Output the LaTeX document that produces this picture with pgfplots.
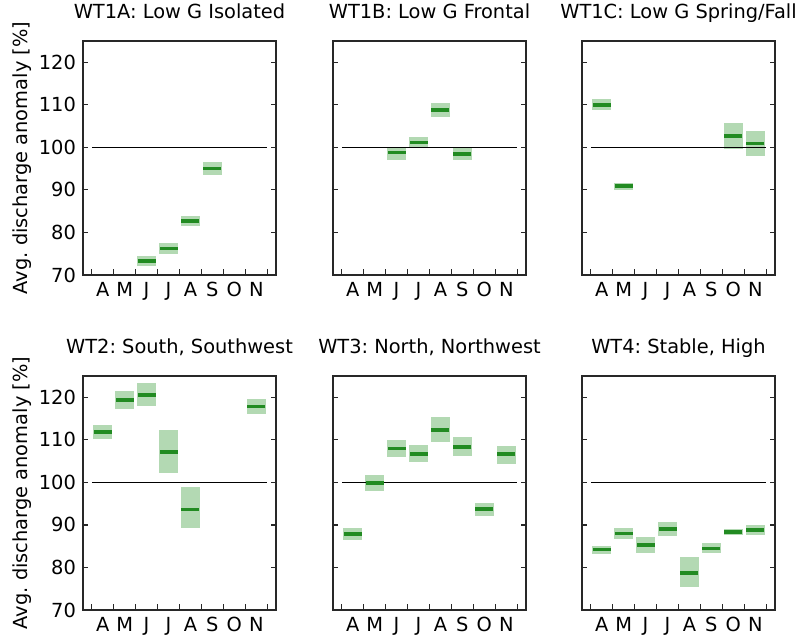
\documentclass[border=0pt]{standalone}
\usepackage{fontspec}
\setmainfont{DejaVu Sans}
\usepackage{pgfplots}
\usepackage{pgfplotstable}
\pgfplotsset{compat=1.18}
\frenchspacing
\definecolor{boxgreen}{RGB}{179,217,179}
\definecolor{medgreen}{RGB}{34,139,34}
\definecolor{axgray}{RGB}{40,40,40}

% columns: x (0=A ... 7=N), lo, med, hi
\pgfplotstableread{
x lo med hi
2 72.0 73.3 74.5
3 74.9 76.25 77.6
4 81.6 82.7 83.8
5 93.4 95.0 96.6
}\tabA
\pgfplotstableread{
x lo med hi
2 97.0 98.75 100.1
3 100.1 101.1 102.4
4 107.1 108.8 110.5
5 97.0 98.5 100.1
}\tabB
\pgfplotstableread{
x lo med hi
0 108.7 110.0 111.3
1 89.9 90.9 91.6
6 99.5 102.7 105.7
7 98.0 100.9 103.75
}\tabC
\pgfplotstableread{
x lo med hi
0 110.1 111.9 113.55
1 117.3 119.3 121.5
2 118.0 120.55 123.3
3 102.1 107.2 112.2
4 89.3 93.6 98.85
7 116.1 117.8 119.5
}\tabD
\pgfplotstableread{
x lo med hi
0 86.5 87.9 89.3
1 97.9 99.9 101.8
2 105.9 108.0 109.9
3 104.9 106.7 108.7
4 109.5 112.3 115.3
5 106.2 108.3 110.7
6 92.2 93.7 95.2
7 104.4 106.6 108.5
}\tabE
\pgfplotstableread{
x lo med hi
0 83.2 84.2 85.1
1 86.7 88.0 89.3
2 83.5 85.25 87.1
3 87.3 89.0 90.6
4 75.3 78.65 82.5
5 83.4 84.5 85.7
6 87.6 88.3 89.0
7 87.7 88.8 89.9
}\tabF

\pgfplotsset{
  panel/.style={
    scale only axis, width=96.5pt, height=117pt,
    xmin=-0.9, xmax=7.9, ymin=70, ymax=125,
    font=\fontsize{9.7}{11.6}\selectfont,
    /pgf/number format/assume math mode=true,
    axis line style={axgray, line width=0.6pt},
    tick style={axgray, line width=0.6pt},
    tick align=inside,
    xtick={0,...,7}, xticklabels={A,M,J,J,A,S,O,N},
    minor xtick={-0.5,0.5,...,7.5},
    major x tick style={draw=none},
    minor tick length=3pt, major tick length=2.6pt,
    ytick={70,80,...,120},
    xtick pos=left, ytick pos=both,
    xticklabel style={anchor=base, yshift=-11pt},
    title style={at={(0.5,1)}, anchor=base, yshift=5.2pt},
    every axis y label/.style={at={(axis description cs:-0.316,0.5)}, rotate=90, anchor=center},
    clip=false,
  },
  noylab/.style={yticklabels={}},
}
\newcommand{\panelplots}[1]{%
  \addplot[draw=none, mark=none, forget plot,
    error bars/.cd, y dir=both, y explicit, error mark=none,
    error bar style={draw=boxgreen, line width=9.5pt}]
    table[x=x, y=med, y error plus expr=\thisrow{hi}-\thisrow{med},
          y error minus expr=\thisrow{med}-\thisrow{lo}] {#1};
  \addplot[black, line width=0.7pt, mark=none, forget plot] coordinates {(-0.5,100) (7.5,100)};
  \addplot[draw=none, mark=-, mark size=4.5pt, line width=1.8pt,
    mark options={line width=1.8pt, draw=medgreen, solid}] table[x=x, y=med] {#1};
}

\begin{document}
\begin{tikzpicture}
\path[use as bounding box] (0,0) rectangle (400pt,318pt);
\begin{axis}[panel, at={(41.5pt,180.5pt)}, anchor=south west,
  title={WT1A: Low G Isolated}, ylabel={Avg. discharge anomaly [\%]}]
\panelplots{\tabA}
\end{axis}
\begin{axis}[panel, noylab, at={(166.5pt,180.5pt)}, anchor=south west,
  title={WT1B: Low G Frontal}]
\panelplots{\tabB}
\end{axis}
\begin{axis}[panel, noylab, at={(291pt,180.5pt)}, anchor=south west,
  title={WT1C: Low G Spring/Fall}]
\panelplots{\tabC}
\end{axis}
\begin{axis}[panel, at={(41.5pt,13pt)}, anchor=south west,
  title={WT2: South, Southwest}, ylabel={Avg. discharge anomaly [\%]}]
\panelplots{\tabD}
\end{axis}
\begin{axis}[panel, noylab, at={(166.5pt,13pt)}, anchor=south west,
  title={WT3: North, Northwest}]
\panelplots{\tabE}
\end{axis}
\begin{axis}[panel, noylab, at={(291pt,13pt)}, anchor=south west,
  title={WT4: Stable, High}]
\panelplots{\tabF}
\end{axis}
\end{tikzpicture}
\end{document}
